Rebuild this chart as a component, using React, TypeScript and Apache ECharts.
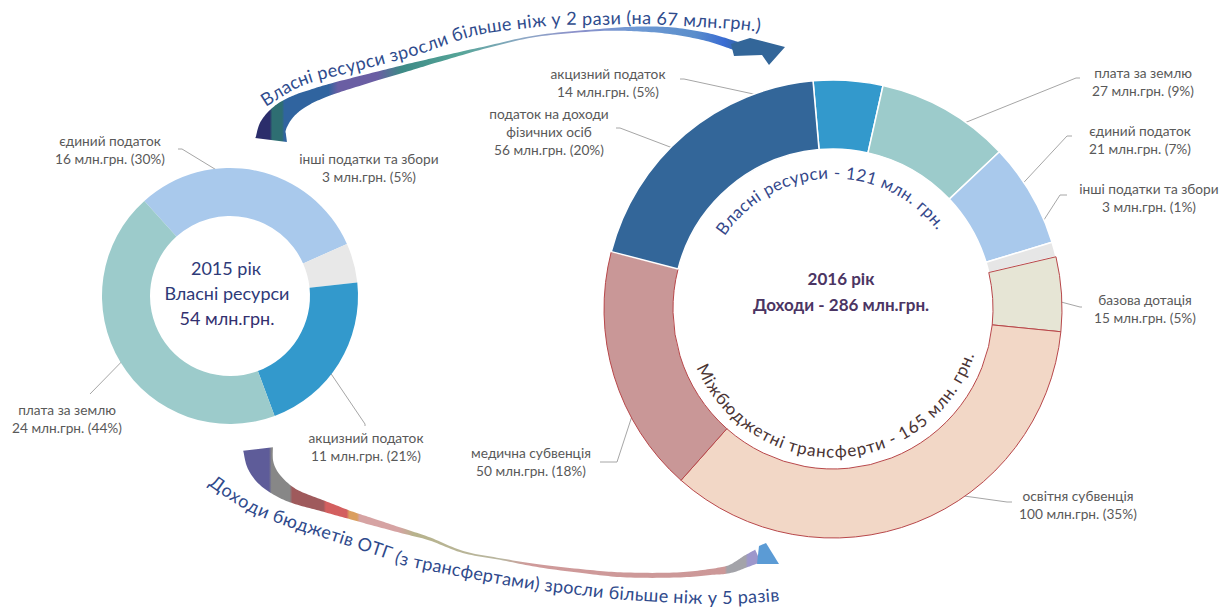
import React, { useEffect, useRef } from 'react';
import * as echarts from 'echarts';

const FONT = 'Lato, "Open Sans", sans-serif';

// ---------- data: 2015 (own resources) ----------
const names2015 = ['єдиний податок', 'інші податки та збори', 'акцизний податок', 'плата за землю'];
const mln2015 = [16, 3, 11, 24];
const pct2015 = [30, 5, 21, 44];
const title2015 = ['2015 рік', 'Власні ресурси', '54 млн.грн.'];

// ---------- data: 2016 (income) ----------
const names2016 = [
  'акцизний податок',
  'плата за землю',
  'єдиний податок',
  'інші податки та збори',
  'базова дотація',
  'освітня субвенція',
  'медична субвенція',
  'податок на доходи\nфізичних осіб',
];
const mln2016 = [14, 27, 21, 3, 15, 100, 50, 56];
const pct2016 = [5, 9, 7, 1, 5, 35, 18, 20];
const isTransfer2016 = [false, false, false, false, true, true, true, false];
const title2016 = ['2016 рік', 'Доходи - 286 млн.грн.'];
const ownResourcesText = 'Власні ресурси - 121 млн. грн.';
const transfersText = 'Міжбюджетні трансферти - 165 млн. грн.';
const topArrowText = 'Власні ресурси зросли більше ніж у 2 рази (на 67 млн.грн.)';
const bottomArrowText = 'Доходи бюджетів ОТГ (з трансфертами) зросли більше ніж у 5 разів';

// ---------- styles ----------
const colors2015 = ['#A9C9EC', '#E8E8E8', '#3399CC', '#9CCBCB'];
const colors2016 = ['#3399CC', '#9CCBCB', '#A9C9EC', '#E6E6E6', '#E6E5D5', '#F2D7C6', '#C99797', '#336699'];

// ---------- layout ----------
const LEFT_CENTER = [230, 296];
const LEFT_RADIUS = [80, 128];
const RIGHT_CENTER = [833, 309];
const RIGHT_RADIUS = [160, 229];

const leftLabelLayout: { c: number[]; line: number[][] | null }[] = [
  { c: [110, 149], line: [[246, 188], [182, 149], [178, 149]] },
  { c: [369, 167], line: null },
  { c: [366, 446], line: [[315, 350], [365, 424], [365, 426]] },
  { c: [67, 418], line: [[135, 348], [90, 394], [90, 394]] },
];

const rightLabelLayout: { c: number[]; line: number[][] }[] = [
  { c: [608, 82], line: [[846, 114], [684, 79], [680, 79]] },
  { c: [1143, 81], line: [[927, 138], [1076, 78], [1080, 78]] },
  { c: [1140, 139], line: [[1000, 208], [1067, 136], [1072, 136]] },
  { c: [1149, 197], line: [[1020, 257], [1060, 195], [1067, 195]] },
  { c: [1145, 308], line: [[1027, 293], [1080, 307], [1082, 307]] },
  { c: [1078, 504], line: [[907, 488], [1007, 502], [1012, 502]] },
  { c: [531, 461], line: [[647, 370], [617, 462], [600, 462]] },
  { c: [549, 131], line: [[707, 161], [620, 128], [616, 128]] },
];

const topBandPts = [
  [271, 140], [273, 127], [282, 114], [295, 104], [312, 96], [335, 88], [370, 78], [410, 67], [440, 59],
  [487, 47], [537, 36], [600, 30], [640, 29], [673, 31], [707, 37], [733, 45], [742, 48],
];
const topBandW = [32, 27, 22, 17, 13, 11, 9, 7, 5, 2, 1.5, 2, 5, 7, 8, 9, 9];
const topHead = [[731, 44], [750, 38], [785, 47], [769, 65], [762, 55], [734, 56]];

const bottomBandPts = [
  [258, 449], [260, 463], [267, 476], [280, 488], [296, 497], [323, 506], [350, 515], [373, 522],
  [403, 531], [430, 539], [463, 552], [500, 559], [540, 566], [590, 572], [627, 575], [677, 575],
  [710, 572], [730, 569], [747, 561], [758, 556],
];
const bottomBandW = [30, 27, 23, 18, 14, 11, 8, 7, 5, 3, 2, 1.5, 3, 4, 5, 5, 6, 8, 12, 14];
const bottomHead = [[759, 546], [766, 543], [779, 564], [757, 564]];

const topTextPts = [
  [262, 101], [290, 84], [312, 75], [360, 63], [416, 48], [450, 36], [482, 27], [528, 21],
  [563, 18], [597, 18], [640, 17], [700, 20], [735, 22], [761, 25],
];
const bottomTextPts = [
  [212, 479], [250, 504], [290, 520], [325, 531], [386, 551], [407, 559], [478, 573], [530, 582],
  [571, 587], [615, 592], [660, 595], [710, 597], [750, 596], [779, 594],
];

// ---------- geometry helpers ----------
function densify(pts: number[][], steps = 14): number[][] {
  const out: number[][] = [];
  const n = pts.length;
  for (let i = 0; i < n - 1; i++) {
    const p0 = pts[Math.max(0, i - 1)], p1 = pts[i], p2 = pts[i + 1], p3 = pts[Math.min(n - 1, i + 2)];
    for (let k = 0; k < steps; k++) {
      const t = k / steps, t2 = t * t, t3 = t2 * t;
      const f = (a: number, b: number, c: number, d: number) =>
        0.5 * (2 * b + (-a + c) * t + (2 * a - 5 * b + 4 * c - d) * t2 + (-a + 3 * b - 3 * c + d) * t3);
      out.push([f(p0[0], p1[0], p2[0], p3[0]), f(p0[1], p1[1], p2[1], p3[1]), i + t]);
    }
  }
  out.push([pts[n - 1][0], pts[n - 1][1], n - 1]);
  return out;
}

function bandPolygon(ctrl: number[][], widths: number[]): number[][] {
  const d = densify(ctrl, 12);
  const a: number[][] = [], b: number[][] = [];
  for (let i = 0; i < d.length; i++) {
    const p = d[Math.max(0, i - 1)], q = d[Math.min(d.length - 1, i + 1)];
    let tx = q[0] - p[0], ty = q[1] - p[1];
    const l = Math.hypot(tx, ty) || 1;
    tx /= l; ty /= l;
    const u = d[i][2];
    const k = Math.min(Math.floor(u), widths.length - 2);
    const f = u - k;
    const w = (widths[k] * (1 - f) + widths[k + 1] * f) / 2;
    a.push([d[i][0] - ty * w, d[i][1] + tx * w]);
    b.push([d[i][0] + ty * w, d[i][1] - tx * w]);
  }
  return a.concat(b.reverse());
}

let measureCtx: CanvasRenderingContext2D | null = null;
function measure(ch: string, font: string): number {
  if (!measureCtx) measureCtx = document.createElement('canvas').getContext('2d');
  measureCtx!.font = font;
  return measureCtx!.measureText(ch).width;
}

function textOnPath(text: string, path: number[][], size: number, weight: string, color: string) {
  const font = `${weight} ${size}px ${FONT}`;
  const measureFont = `${weight} ${size}px Lato`;
  const chars = Array.from(text);
  const widths = chars.map((c) => measure(c, measureFont));
  const cum = [0];
  for (let i = 1; i < path.length; i++) {
    cum.push(cum[i - 1] + Math.hypot(path[i][0] - path[i - 1][0], path[i][1] - path[i - 1][1]));
  }
  const L = cum[cum.length - 1];
  const total = widths.reduce((s, w) => s + w, 0);
  const extra = (L - total) / Math.max(1, chars.length - 1);
  const at = (s: number) => {
    let j = 1;
    while (j < cum.length - 1 && cum[j] < s) j++;
    const seg = cum[j] - cum[j - 1] || 1;
    const f = Math.max(0, Math.min(1, (s - cum[j - 1]) / seg));
    const p = path[j - 1], q = path[j];
    return { x: p[0] + (q[0] - p[0]) * f, y: p[1] + (q[1] - p[1]) * f, ang: Math.atan2(q[1] - p[1], q[0] - p[0]) };
  };
  const els: any[] = [];
  let s = 0;
  chars.forEach((c, i) => {
    const pos = at(s + widths[i] / 2);
    s += widths[i] + extra;
    if (c === ' ') return;
    els.push({
      type: 'text',
      x: pos.x,
      y: pos.y,
      rotation: -pos.ang,
      silent: true,
      z: 10,
      style: {
        text: c, fill: color, font,
        align: 'center', verticalAlign: 'middle', textAlign: 'center', textVerticalAlign: 'middle',
      },
    });
  });
  return els;
}

function arcPath(cx: number, cy: number, r: number, a0: number, a1: number, n = 200): number[][] {
  const pts: number[][] = [];
  for (let i = 0; i <= n; i++) {
    const a = ((a0 + ((a1 - a0) * i) / n) * Math.PI) / 180;
    pts.push([cx + r * Math.cos(a), cy - r * Math.sin(a)]);
  }
  return pts;
}

function centerText(text: string, x: number, y: number, size: number, weight: string, color: string) {
  return {
    type: 'text', x, y, silent: true, z: 10,
    style: {
      text, fill: color, font: `${weight} ${size}px ${FONT}`,
      align: 'center', verticalAlign: 'middle', textAlign: 'center', textVerticalAlign: 'middle',
    },
  };
}

function buildOption(): any {
  const labelCommon = {
    show: true,
    position: 'outside',
    color: '#595959',
    fontSize: 13.7,
    fontFamily: FONT,
    lineHeight: 18,
    align: 'center',
  };
  const lineCommon = { show: true, length: 5, length2: 5, lineStyle: { color: '#A6A6A6', width: 1 } };

  const topGrad = new echarts.graphic.LinearGradient(0, 0, 1, 0, [
    { offset: 0, color: '#2B2D6B' }, { offset: 0.03, color: '#2B2D6B' },
    { offset: 0.035, color: '#2E6E72' }, { offset: 0.055, color: '#2E6E72' },
    { offset: 0.06, color: '#30649F' }, { offset: 0.15, color: '#30649F' },
    { offset: 0.17, color: '#6A5EA3' }, { offset: 0.25, color: '#6A5EA3' },
    { offset: 0.3, color: '#3D8A86' }, { offset: 0.42, color: '#56A598' },
    { offset: 0.55, color: '#8EA8C6' }, { offset: 0.66, color: '#8C90CA' },
    { offset: 0.78, color: '#6F9AD4' }, { offset: 0.9, color: '#5B8ECB' },
    { offset: 0.96, color: '#3A6CD3' }, { offset: 1, color: '#336699' },
  ]);
  const bottomGrad = new echarts.graphic.LinearGradient(0, 0, 1, 0, [
    { offset: 0, color: '#5E5C99' }, { offset: 0.05, color: '#5E5C99' },
    { offset: 0.055, color: '#878787' }, { offset: 0.09, color: '#878787' },
    { offset: 0.095, color: '#9F5A5C' }, { offset: 0.155, color: '#9F5A5C' },
    { offset: 0.16, color: '#D35F5F' }, { offset: 0.2, color: '#D35F5F' },
    { offset: 0.205, color: '#DA9E5E' }, { offset: 0.22, color: '#DA9E5E' },
    { offset: 0.225, color: '#D6A3A3' }, { offset: 0.3, color: '#D6A3A3' },
    { offset: 0.33, color: '#B7B38C' }, { offset: 0.5, color: '#B9B6A0' },
    { offset: 0.55, color: '#CF9A9A' }, { offset: 0.93, color: '#CC9898' },
    { offset: 0.935, color: '#A3A3A9' }, { offset: 0.97, color: '#A3A3A9' },
    { offset: 0.975, color: '#9D97CB' }, { offset: 1, color: '#9D97CB' },
  ]);

  const [rcx, rcy] = RIGHT_CENTER;
  const graphics: any[] = [
    { type: 'polygon', silent: true, shape: { points: bandPolygon(topBandPts, topBandW) }, style: { fill: topGrad } },
    { type: 'polygon', silent: true, shape: { points: topHead }, style: { fill: '#336699' } },
    { type: 'polygon', silent: true, shape: { points: bandPolygon(bottomBandPts, bottomBandW) }, style: { fill: bottomGrad } },
    { type: 'polygon', silent: true, shape: { points: bottomHead }, style: { fill: '#5B9BD5' } },
    ...textOnPath(topArrowText, densify(topTextPts, 20), 18, 'normal', '#2F4C8D'),
    ...textOnPath(bottomArrowText, densify(bottomTextPts, 20), 18, 'normal', '#2F4A8C'),
    ...textOnPath(ownResourcesText, arcPath(rcx, rcy, 137, 146, 37), 17, 'normal', '#34478A'),
    ...textOnPath(transfersText, arcPath(rcx, rcy, 142, 203, 342), 17, 'normal', '#4A3434'),
    centerText(title2015[0], 226, 268, 18, 'normal', '#2E3A78'),
    centerText(title2015[1], 227, 293, 18, 'normal', '#2E3A78'),
    centerText(title2015[2], 227, 318, 18, 'normal', '#33306F'),
    centerText(title2016[0], 841, 278, 17, 'bold', '#4B3563'),
    centerText(title2016[1], 841, 304, 17, 'bold', '#4B3563'),
  ];

  return {
    animation: false,
    backgroundColor: '#ffffff',
    graphic: graphics,
    series: [
      {
        type: 'pie',
        center: LEFT_CENTER,
        radius: LEFT_RADIUS,
        startAngle: 132,
        clockwise: true,
        silent: true,
        avoidLabelOverlap: false,
        label: {
          ...labelCommon,
          formatter: (p: any) => `${p.name}\n${mln2015[p.dataIndex]} млн.грн. (${pct2015[p.dataIndex]}%)`,
        },
        labelLine: lineCommon,
        labelLayout: (p: any) => {
          const L = leftLabelLayout[p.dataIndex];
          const o: any = { x: L.c[0], y: L.c[1], align: 'center', verticalAlign: 'middle' };
          if (L.line) o.labelLinePoints = L.line;
          return o;
        },
        data: names2015.map((name, i) => ({
          name,
          value: pct2015[i],
          itemStyle: { color: colors2015[i] },
          labelLine: { show: !!leftLabelLayout[i].line },
        })),
      },
      {
        type: 'pie',
        center: RIGHT_CENTER,
        radius: RIGHT_RADIUS,
        startAngle: 95,
        clockwise: true,
        silent: true,
        avoidLabelOverlap: false,
        label: {
          ...labelCommon,
          formatter: (p: any) => `${p.name}\n${mln2016[p.dataIndex]} млн.грн. (${pct2016[p.dataIndex]}%)`,
        },
        labelLine: lineCommon,
        labelLayout: (p: any) => {
          const L = rightLabelLayout[p.dataIndex];
          return { x: L.c[0], y: L.c[1], align: 'center', verticalAlign: 'middle', labelLinePoints: L.line };
        },
        data: names2016.map((name, i) => ({
          name,
          value: mln2016[i],
          itemStyle: {
            color: colors2016[i],
            borderColor: isTransfer2016[i] ? '#B8474A' : '#FFFFFF',
            borderWidth: isTransfer2016[i] ? 1 : 1.5,
          },
        })),
      },
    ],
  };
}

export default function App() {
  const ref = useRef<HTMLDivElement>(null);
  useEffect(() => {
    if (!ref.current) return;
    const chart = echarts.init(ref.current, null, { renderer: 'svg' });
    chart.setOption(buildOption());
    return () => chart.dispose();
  }, []);
  return (
    <div
      ref={ref}
      style={{ position: 'absolute', left: 0, top: 0, width: 1232, height: 610, background: '#ffffff' }}
    />
  );
}
